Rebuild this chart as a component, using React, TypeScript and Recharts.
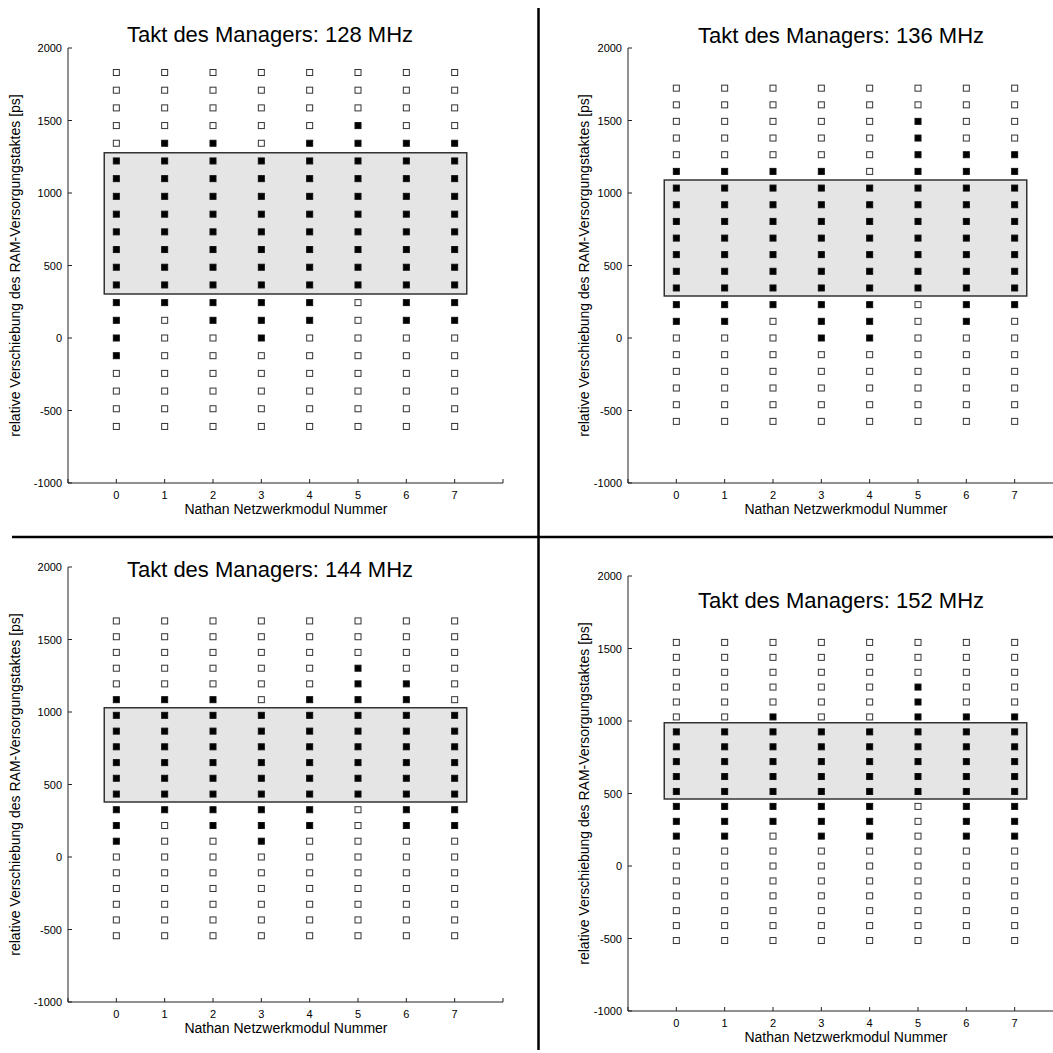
import React from "react";
import {
  ScatterChart,
  Scatter,
  XAxis,
  YAxis,
  ReferenceArea,
} from "recharts";

// module numbers on the x axis
const modules = [0, 1, 2, 3, 4, 5, 6, 7];
const xTicks = [-1, 0, 1, 2, 3, 4, 5, 6, 7, 8];
const yTicks = [-1000, -500, 0, 500, 1000, 1500, 2000];

const titles = [
  "Takt des Managers: 128 MHz",
  "Takt des Managers: 136 MHz",
  "Takt des Managers: 144 MHz",
  "Takt des Managers: 152 MHz",
];

// tested shifts [ps] per clock
const rows128 = [-610, -488, -366, -244, -122, 0, 122, 244, 366, 488, 610, 732, 854, 977, 1099, 1221, 1343, 1465, 1587, 1709, 1831];
const rows136 = [-575, -460, -345, -230, -115, 0, 115, 230, 345, 460, 575, 689, 804, 919, 1034, 1149, 1264, 1379, 1494, 1608, 1723];
const rows144 = [-543, -434, -326, -217, -109, 0, 109, 217, 326, 434, 543, 651, 760, 868, 977, 1085, 1194, 1302, 1411, 1519, 1628];
const rows152 = [-514, -411, -308, -206, -103, 0, 103, 206, 308, 411, 514, 617, 720, 822, 925, 1028, 1131, 1234, 1336, 1439, 1542];

// highest / lowest working shift per module
const upper128 = [1221, 1343, 1343, 1221, 1343, 1465, 1343, 1343];
const lower128 = [-122, 244, 122, 0, 122, 366, 122, 122];
const upper136 = [1149, 1149, 1149, 1149, 1034, 1494, 1264, 1264];
const lower136 = [115, 115, 230, 0, 0, 345, 115, 230];
const upper144 = [1085, 1085, 1085, 977, 1085, 1302, 1194, 977];
const lower144 = [109, 326, 217, 109, 217, 434, 217, 217];
const upper152 = [925, 925, 1028, 925, 925, 1234, 1028, 1028];
const lower152 = [206, 206, 308, 206, 206, 514, 206, 206];

// common working window (grey box)
const boxTop = [1278, 1090, 1030, 988];
const boxBottom = [303, 290, 380, 462];
const boxLeft = -0.25;
const boxRight = 7.25;

const FONT = "'Liberation Sans', Arial, Helvetica, sans-serif";
const AXIS = "#222";

const PLOT = 435;
const AX_W = 60;
const AX_H = 40;
const PAD = 10;
const TICK_GAP = 8; // distance axis line -> tick label anchor
const TICK_LEN = 4; // ticks point into the plot

const layout = [
  { left: 68, top: 48, titleX: 270, titleY: 42, labelX: 20, xLabelX: 286, xLabelY: 514 },
  { left: 628, top: 48, titleX: 841, titleY: 43, labelX: 589, xLabelX: 846, xLabelY: 514 },
  { left: 68, top: 567, titleX: 270, titleY: 577, labelX: 20, xLabelX: 286, xLabelY: 1033 },
  { left: 628, top: 576, titleX: 841, titleY: 608, labelX: 589, xLabelX: 846, xLabelY: 1042 },
];

type Pt = { x: number; y: number };

function buildPoints(rows: number[], upper: number[], lower: number[]) {
  const filled: Pt[] = [];
  const open: Pt[] = [];
  modules.forEach((m, i) => {
    rows.forEach((y) => {
      if (y >= lower[i] && y <= upper[i]) filled.push({ x: m, y });
      else open.push({ x: m, y });
    });
  });
  return { filled, open };
}

const panels = [
  buildPoints(rows128, upper128, lower128),
  buildPoints(rows136, upper136, lower136),
  buildPoints(rows144, upper144, lower144),
  buildPoints(rows152, upper152, lower152),
];

const FilledSquare = (props: any) => (
  <rect x={props.cx - 3} y={props.cy - 3} width={6} height={6} fill="#000" stroke="#111" strokeWidth={1} />
);
const OpenSquare = (props: any) => (
  <rect x={props.cx - 3} y={props.cy - 3} width={6} height={6} fill="#fff" stroke="#333" strokeWidth={1} />
);

// x tick: props.y is axis line + TICK_GAP (tickSize 0)
const XTick = (props: any) => {
  const { x, y, payload } = props;
  const axisY = y - TICK_GAP;
  const v = payload.value;
  return (
    <g>
      <line x1={x} x2={x} y1={axisY} y2={axisY - TICK_LEN} stroke={AXIS} />
      {v >= 0 && v <= 7 && (
        <text x={x} y={axisY + 16} textAnchor="middle" fontSize={11} fontFamily={FONT} fill="#000">
          {v}
        </text>
      )}
    </g>
  );
};

const YTick = (props: any) => {
  const { x, y, payload } = props;
  const axisX = x + TICK_GAP;
  return (
    <g>
      <line x1={axisX} x2={axisX + TICK_LEN} y1={y} y2={y} stroke={AXIS} />
      <text x={axisX - 6} y={y + 4} textAnchor="end" fontSize={11} fontFamily={FONT} fill="#000">
        {payload.value}
      </text>
    </g>
  );
};

function Panel({ idx }: { idx: number }) {
  const l = layout[idx];
  const pts = panels[idx];
  return (
    <div style={{ position: "absolute", left: l.left - AX_W, top: l.top - PAD }}>
      <ScatterChart
        width={AX_W + PLOT + PAD}
        height={PAD + PLOT + AX_H}
        margin={{ top: PAD, right: PAD, left: 0, bottom: 0 }}
      >
        <XAxis
          type="number"
          dataKey="x"
          domain={[-1, 8]}
          ticks={xTicks}
          interval={0}
          allowDataOverflow
          height={AX_H}
          tickSize={0}
          tickMargin={TICK_GAP}
          tickLine={false}
          tick={<XTick />}
          axisLine={{ stroke: AXIS }}
        />
        <YAxis
          type="number"
          dataKey="y"
          domain={[-1000, 2000]}
          ticks={yTicks}
          interval={0}
          allowDataOverflow
          width={AX_W}
          tickSize={0}
          tickMargin={TICK_GAP}
          tickLine={false}
          tick={<YTick />}
          axisLine={{ stroke: AXIS }}
        />
        <ReferenceArea
          x1={boxLeft}
          x2={boxRight}
          y1={boxBottom[idx]}
          y2={boxTop[idx]}
          fill="#e5e5e5"
          fillOpacity={1}
          stroke="#333"
          strokeWidth={1.5}
        />
        <Scatter data={pts.open} shape={OpenSquare} isAnimationActive={false} />
        <Scatter data={pts.filled} shape={FilledSquare} isAnimationActive={false} />
      </ScatterChart>
    </div>
  );
}

export default function App() {
  return (
    <div
      style={{
        position: "absolute",
        left: 0,
        top: 0,
        width: 1053,
        height: 1053,
        overflow: "hidden",
        background: "#fff",
        fontFamily: FONT,
      }}
    >
      {[0, 1, 2, 3].map((i) => (
        <Panel key={i} idx={i} />
      ))}
      <svg
        width={1053}
        height={1053}
        style={{ position: "absolute", left: 0, top: 0, pointerEvents: "none" }}
      >
        <line x1={538.5} y1={8} x2={538.5} y2={1050} stroke="#000" strokeWidth={2.5} />
        <line x1={12} y1={537} x2={1053} y2={537} stroke="#000" strokeWidth={2.5} />
        {layout.map((l, i) => (
          <g key={i} fontFamily={FONT} fill="#000">
            <text x={l.titleX} y={l.titleY} fontSize={22} textAnchor="middle">
              {titles[i]}
            </text>
            <text x={l.xLabelX} y={l.xLabelY} fontSize={14} textAnchor="middle">
              Nathan Netzwerkmodul Nummer
            </text>
            <text
              transform={`translate(${l.labelX}, ${l.top + PLOT / 2}) rotate(-90)`}
              fontSize={14}
              textAnchor="middle"
            >
              relative Verschiebung des RAM-Versorgungstaktes [ps]
            </text>
          </g>
        ))}
      </svg>
    </div>
  );
}
